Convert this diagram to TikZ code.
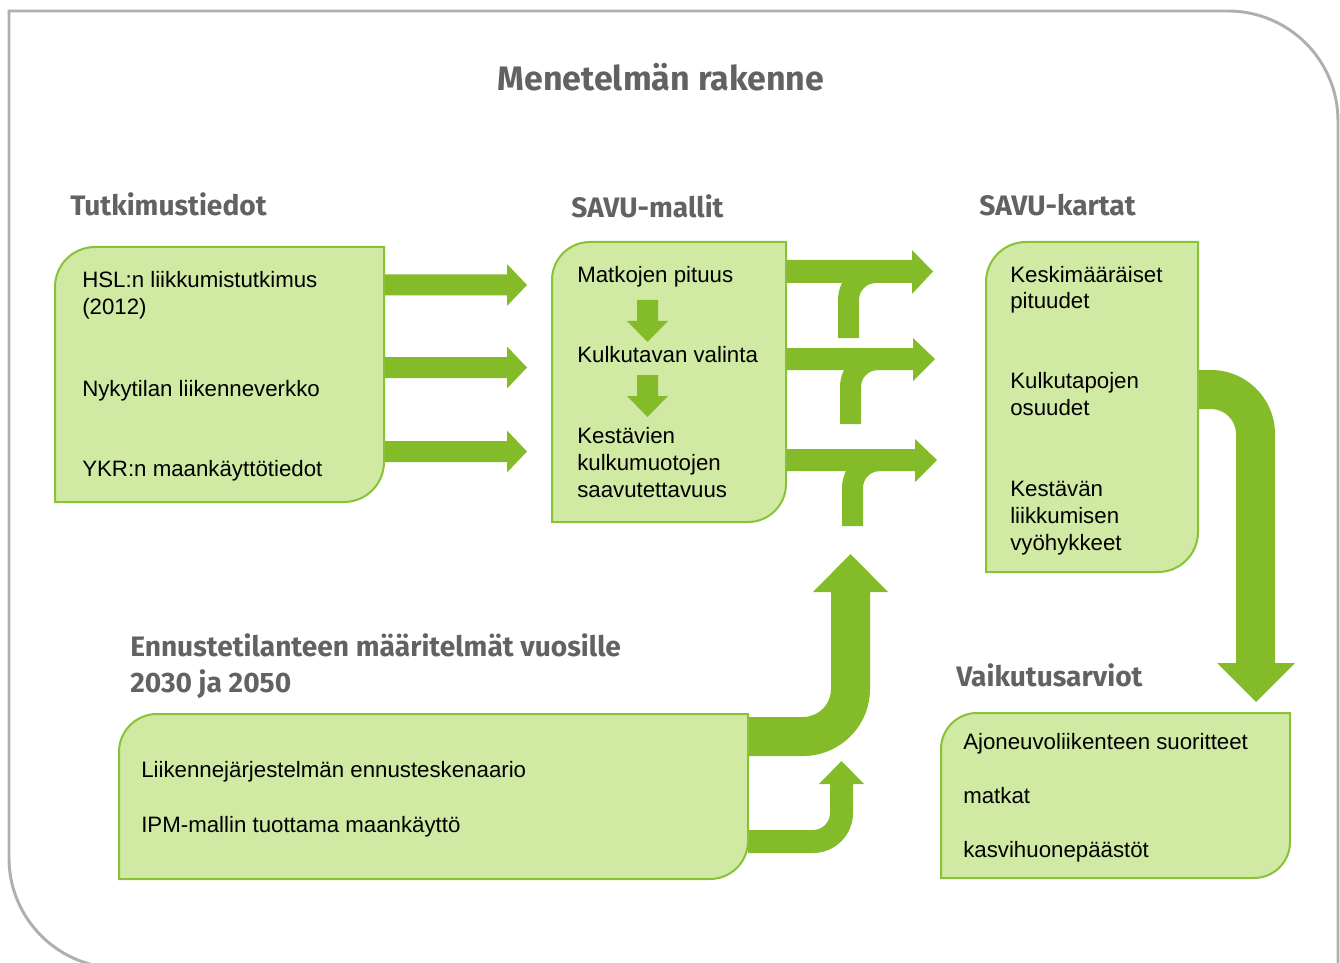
\documentclass[tikz,border=0pt]{standalone}
\usepackage{fontspec}
\setmainfont{Liberation Sans}
\newfontfamily\titlefont{Fira Sans}
\definecolor{agreen}{RGB}{132,187,41}
\definecolor{bfill}{RGB}{208,233,163}
\definecolor{bline}{RGB}{137,193,55}
\definecolor{tgray}{RGB}{98,98,98}
\definecolor{fgray}{RGB}{175,175,175}
\newcommand{\greenbox}[6]{%
  \draw[gboxst] (#2,#5) -- (#2,{#3+#6}) .. controls (#2,{#3+0.4477*#6}) and ({#2+0.4477*#6},#3) .. ({#2+#6},#3) -- (#4,#3) -- (#4,{#5-#6}) .. controls (#4,{#5-0.4477*#6}) and ({#4-0.4477*#6},#5) .. ({#4-#6},#5) -- cycle;
  \coordinate (#1) at ({(#2+#4)/2},{(#3+#5)/2});}
\begin{document}
\begin{tikzpicture}[x=0.75pt,y=-0.75pt,
  gboxst/.style={fill=bfill,draw=bline,line width=1.5pt},
  blockarrow/.style={fill=agreen,draw=none},
  frame/.style={draw=fgray,line width=2.2pt},
  txt/.style={anchor=base west,align=left,inner sep=0pt,font=\fontsize{16.7}{20.25}\selectfont,text=black},
  ttl/.style={anchor=base west,align=left,inner sep=0pt,font=\titlefont\bfseries\fontsize{21.1}{27}\selectfont,text=tgray}]
\useasboundingbox (0,0) rectangle (1340,963);
\clip (0,0) rectangle (1340,963);
\fill[white] (0,0) rectangle (1340,963);
% frame
\draw[frame] (1338,1000) -- (1338,121) .. controls (1338,60.25) and (1288.75,11) .. (1228,11) -- (9,11) -- (9,858) .. controls (9,918.75) and (58.25,968) .. (119,968) -- (1338,968);

% arrows Tutkimustiedot -> SAVU-mallit
\fill[blockarrow] (384,274.5) -- (507,274.5) -- (507,264) -- (527,285) -- (507,306) -- (507,295.5) -- (384,295.5) -- cycle;
\fill[blockarrow] (384,357) -- (507,357) -- (507,346.5) -- (527,367.5) -- (507,388.5) -- (507,378) -- (384,378) -- cycle;
\fill[blockarrow] (384,441) -- (507,441) -- (507,430.5) -- (527,451.5) -- (507,472.5) -- (507,462) -- (384,462) -- cycle;

% arrows SAVU-mallit -> SAVU-kartat with branches
\fill[blockarrow] (785,260) -- (912,260) -- (912,250) -- (933,271.5) -- (912,294) -- (912,283) -- (785,283) -- cycle;
\fill[blockarrow] (838,338) -- (838,300) .. controls (838,279) and (855,262) .. (876,262) -- (876,283) .. controls (866.6,283) and (859,290.6) .. (859,300) -- (859,338) -- cycle;
\fill[blockarrow] (785,348) -- (913,348) -- (913,338) -- (935,359) -- (913,381) -- (913,370) -- (785,370) -- cycle;
\fill[blockarrow] (840,424) -- (840,387) .. controls (840,366) and (857,349) .. (878,349) -- (878,370) .. controls (868.6,370) and (861,377.6) .. (861,387) -- (861,424) -- cycle;
\fill[blockarrow] (785,449) -- (915,449) -- (915,439) -- (937,460) -- (915,482) -- (915,471) -- (785,471) -- cycle;
\fill[blockarrow] (842,526) -- (842,488) .. controls (842,467) and (859,450) .. (880,450) -- (880,471) .. controls (870.6,471) and (863,478.6) .. (863,488) -- (863,526) -- cycle;

% big up arrow from forecast box
\fill[blockarrow] (748,717) -- (803,717) .. controls (818.5,717) and (831,704.5) .. (831,689) -- (831,592) -- (813,592) -- (850.5,554) -- (888,592) -- (870,592) -- (870,689) .. controls (870,726) and (840,756) .. (803,756) -- (748,756) -- cycle;
% small up arrow
\fill[blockarrow] (748,830) -- (813,830) .. controls (822.4,830) and (830,822.4) .. (830,813) -- (830,784) -- (819,784) -- (841.5,761) -- (864,784) -- (853,784) -- (853,813) .. controls (853,835.1) and (835.1,853) .. (813,853) -- (748,853) -- cycle;
% down arrow SAVU-kartat -> Vaikutusarviot
\fill[blockarrow] (1198,370) -- (1211,370) .. controls (1246.3,370) and (1275,398.7) .. (1275,434) -- (1275,663) -- (1295,663) -- (1256,702) -- (1217,663) -- (1236,663) -- (1236,434) .. controls (1236,420.2) and (1224.8,409) .. (1211,409) -- (1198,409) -- cycle;

% boxes
\greenbox{tut}{55}{247}{384}{502}{40}
\greenbox{savu}{552}{242}{786}{522}{38}
\greenbox{kart}{986}{242}{1198}{572}{40}
\greenbox{vaik}{941}{713}{1290}{878}{36}
\greenbox{enn}{119}{714}{748}{879}{38}

% small down arrows inside SAVU-mallit
\fill[blockarrow] (637,300) -- (658,300) -- (658,321) -- (668,321) -- (647.5,342) -- (627,321) -- (637,321) -- cycle;
\fill[blockarrow] (637,375) -- (658,375) -- (658,396) -- (668,396) -- (647.5,417) -- (627,396) -- (637,396) -- cycle;

% titles (base anchor = last line)
\node[ttl,anchor=base,font=\titlefont\bfseries\fontsize{25.5}{30}\selectfont] (title) at (661,91) {Menetelmän rakenne};
\node[ttl] (ttut) at (70,216) {Tutkimustiedot};
\node[ttl] (tsavu) at (571,218) {SAVU-mallit};
\node[ttl] (tkart) at (979,216) {SAVU-kartat};
\node[ttl] (tenn) at (130,692) {Ennustetilanteen määritelmät vuosille\\2030 ja 2050};
\node[ttl] (tvaik) at (956,686) {Vaikutusarviot};

% texts (base anchor = last line)
\node[txt] (hsl) at (82,315) {HSL:n liikkumistutkimus\\(2012)};
\node[txt] (nyk) at (82,396) {Nykytilan liikenneverkko};
\node[txt] (ykr) at (82,476) {YKR:n maankäyttötiedot};
\node[txt] (mat) at (577,282) {Matkojen pituus};
\node[txt] (kul) at (577,362) {Kulkutavan valinta};
\node[txt] (kes) at (577,497) {Kestävien\\kulkumuotojen\\saavutettavuus};
\node[txt] (kesk) at (1010,309) {Keskimääräiset\\pituudet};
\node[txt] (kulk) at (1010,415) {Kulkutapojen\\osuudet};
\node[txt] (kest) at (1010,550) {Kestävän\\liikkumisen\\vyöhykkeet};
\node[txt] (ajo) at (963,749) {Ajoneuvoliikenteen suoritteet};
\node[txt] (mtk) at (963,803) {matkat};
\node[txt] (kas) at (963,857) {kasvihuonepäästöt};
\node[txt] (lii) at (141,777) {Liikennejärjestelmän ennusteskenaario};
\node[txt] (ipm) at (141,832) {IPM-mallin tuottama maankäyttö};
\end{tikzpicture}
\end{document}
